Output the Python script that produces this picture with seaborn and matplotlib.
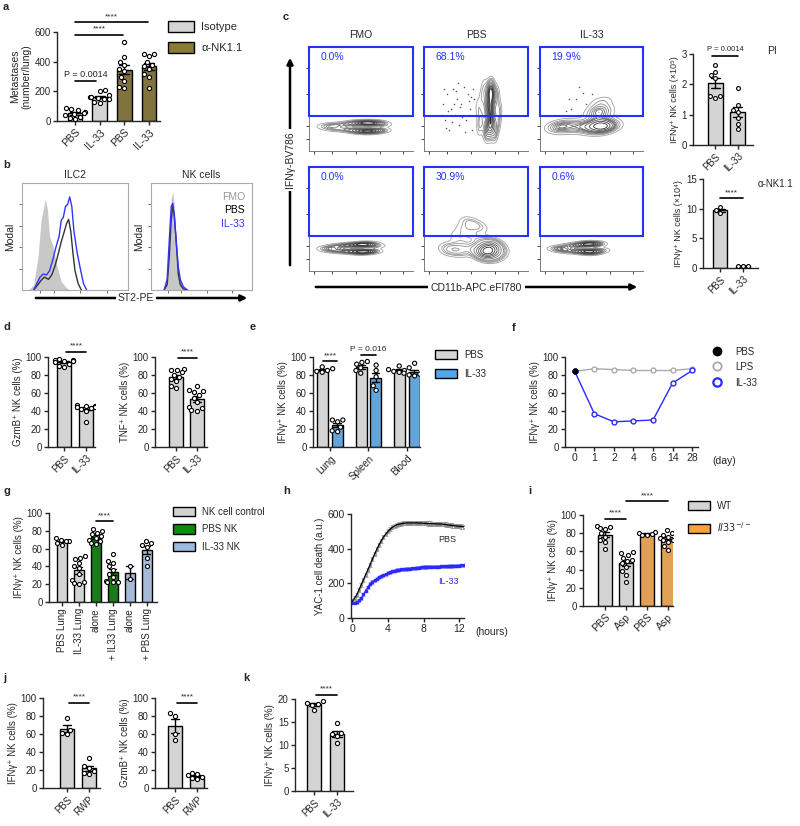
import numpy as np
import pandas as pd
import matplotlib
matplotlib.use('Agg')
import matplotlib.pyplot as plt
import seaborn as sns
from matplotlib.patches import Patch, Rectangle
from matplotlib.lines import Line2D
from matplotlib.colors import LinearSegmentedColormap

# ---------------- data ----------------
# a: metastases
a_labels = ['PBS', 'IL-33', 'PBS', 'IL-33']
a_iso_pbs = [85, 80, 75, 60, 55, 50, 40, 30, 20, 15]
a_iso_il33 = [210, 200, 175, 165, 160, 155, 150, 145, 130, 120]
a_nk_pbs = [530, 430, 400, 380, 350, 340, 300, 270, 230, 225]
a_nk_il33 = [455, 450, 440, 400, 380, 370, 350, 320, 300, 220]

# b: ST2 histograms (x = fraction of axis, y = fraction of mode)
ilc2_fmo_x = [0.06, 0.11, 0.15, 0.18, 0.22, 0.24, 0.26, 0.29, 0.33, 0.37, 0.42, 0.45]
ilc2_fmo_y = [0, 0.05, 0.3, 0.65, 0.85, 0.75, 0.5, 0.42, 0.22, 0.08, 0.02, 0]
ilc2_pbs_x = [0.11, 0.15, 0.18, 0.21, 0.25, 0.28, 0.31, 0.34, 0.37, 0.40, 0.42, 0.44, 0.46, 0.48, 0.50, 0.53, 0.56]
ilc2_pbs_y = [0, 0.05, 0.09, 0.12, 0.10, 0.14, 0.22, 0.33, 0.45, 0.55, 0.62, 0.66, 0.55, 0.35, 0.18, 0.06, 0]
ilc2_il33_x = [0.11, 0.14, 0.17, 0.20, 0.23, 0.26, 0.29, 0.32, 0.35, 0.37, 0.39, 0.41, 0.43, 0.45, 0.47, 0.49, 0.52, 0.55, 0.58, 0.61]
ilc2_il33_y = [0, 0.06, 0.12, 0.15, 0.14, 0.18, 0.28, 0.40, 0.50, 0.65, 0.68, 0.78, 0.80, 0.87, 0.78, 0.55, 0.35, 0.2, 0.06, 0]
nk_hist_x = [0.13, 0.16, 0.18, 0.20, 0.215, 0.23, 0.25, 0.27, 0.29, 0.32, 0.36]
nk_fmo_y = [0, 0.15, 0.5, 0.85, 0.92, 0.8, 0.45, 0.2, 0.08, 0.02, 0]
nk_pbs_y = [0, 0.05, 0.3, 0.65, 0.78, 0.7, 0.45, 0.15, 0.05, 0.01, 0]
nk_il33_y = [0, 0.1, 0.45, 0.78, 0.81, 0.7, 0.45, 0.22, 0.1, 0.03, 0]

# c: flow plots (approximate event positions, fraction of axis) and gates
c_cols = ['FMO', 'PBS', 'IL-33']
c_pct_top = ['0.0%', '68.1%', '19.9%']
c_pct_bot = ['0.0%', '30.9%', '0.6%']
fmo_top_x = [0.17, 0.20, 0.24, 0.28, 0.33, 0.38, 0.43, 0.47, 0.51, 0.55, 0.59, 0.63, 0.67, 0.70]
fmo_top_y = [0.23, 0.25, 0.21, 0.25, 0.21, 0.26, 0.20, 0.27, 0.19, 0.27, 0.19, 0.27, 0.20, 0.25]
fmo_top_w = [1, 1, 1, 1, 1, 1.2, 1.5, 2, 2.5, 3, 3, 3, 2, 1]
pbs_top_x = [0.60, 0.64, 0.68, 0.62, 0.66, 0.64, 0.64, 0.61, 0.67, 0.64, 0.63, 0.65,
             0.55, 0.72, 0.53, 0.52, 0.56, 0.71, 0.58, 0.70]
pbs_top_y = [0.18, 0.20, 0.18, 0.25, 0.28, 0.35, 0.42, 0.45, 0.50, 0.55, 0.58, 0.60,
             0.30, 0.40, 0.22, 0.42, 0.52, 0.28, 0.62, 0.55]
pbs_top_w = [1, 1, 1, 1, 1, 1.2, 1.2, 1, 1, 1, 1, 1, 0.7, 0.7, 0.5, 0.5, 0.5, 0.7, 0.5, 0.6]
pbs_top_dx = [0.18, 0.2, 0.22, 0.24, 0.26, 0.28, 0.3, 0.32, 0.34, 0.36, 0.38, 0.4, 0.42, 0.44, 0.46,
              0.48, 0.5, 0.19, 0.23, 0.27, 0.31, 0.35, 0.39, 0.43, 0.47, 0.21, 0.29, 0.37, 0.45, 0.33]
pbs_top_dy = [0.45, 0.3, 0.55, 0.2, 0.4, 0.6, 0.35, 0.5, 0.25, 0.45, 0.62, 0.3, 0.55, 0.4, 0.2,
              0.5, 0.35, 0.6, 0.38, 0.28, 0.58, 0.42, 0.18, 0.48, 0.6, 0.22, 0.45, 0.33, 0.52, 0.65]
il33_top_x = [0.16, 0.2, 0.25, 0.3, 0.35, 0.4, 0.45, 0.5, 0.55, 0.6, 0.64, 0.68, 0.56, 0.58, 0.60, 0.58, 0.54, 0.62]
il33_top_y = [0.24, 0.21, 0.26, 0.21, 0.26, 0.22, 0.25, 0.21, 0.26, 0.21, 0.26, 0.23, 0.35, 0.42, 0.48, 0.30, 0.38, 0.38]
il33_top_w = [1.5, 1, 1, 0.8, 0.8, 0.8, 1, 1.5, 2, 2.5, 2, 1.5, 1.2, 1.1, 0.9, 1.2, 0.8, 0.8]
il33_top_dx = [0.3, 0.35, 0.4, 0.45, 0.25, 0.5, 0.38, 0.28, 0.42]
il33_top_dy = [0.4, 0.5, 0.35, 0.45, 0.38, 0.55, 0.62, 0.5, 0.56]
fmo_bot_x = [0.18, 0.22, 0.27, 0.32, 0.37, 0.42, 0.47, 0.51, 0.55, 0.59, 0.63]
fmo_bot_y = [0.22, 0.20, 0.24, 0.19, 0.25, 0.19, 0.25, 0.18, 0.26, 0.19, 0.24]
fmo_bot_w = [1, 1, 1, 1, 1, 1.2, 1.5, 2, 2, 1.5, 1]
pbs_bot_x = [0.55, 0.6, 0.65, 0.70, 0.62, 0.58, 0.66, 0.22, 0.28, 0.34, 0.40, 0.32, 0.38, 0.46, 0.54, 0.42, 0.48]
pbs_bot_y = [0.18, 0.21, 0.17, 0.21, 0.24, 0.15, 0.26, 0.20, 0.22, 0.19, 0.23, 0.33, 0.40, 0.45, 0.42, 0.48, 0.33]
pbs_bot_w = [3, 3, 3, 2, 2, 2, 2, 1, 1, 1, 1, 0.8, 0.8, 0.8, 0.8, 0.6, 0.8]
il33_bot_x = [0.17, 0.22, 0.27, 0.32, 0.37, 0.42, 0.46, 0.50, 0.54, 0.58]
il33_bot_y = [0.22, 0.20, 0.24, 0.19, 0.25, 0.19, 0.26, 0.18, 0.26, 0.20]
il33_bot_w = [1, 1, 0.8, 0.8, 1, 1.5, 2, 2, 1.5, 1]

# c right: IFNg+ NK cell counts
pi_pbs = [2.65, 2.4, 2.3, 2.2, 1.62, 1.55, 1.6]
pi_il33 = [1.88, 1.33, 1.16, 1.08, 0.89, 0.7, 0.52]
nk11_pbs = [10.2, 9.8, 9.3]
nk11_il33 = [0.3, 0.35, 0.4]

# d
gzmb_pbs = [98, 97, 97, 96, 96, 95, 94, 92, 90, 89]
gzmb_il33 = [47, 46, 46, 45, 45, 44, 43, 42, 40, 28]
tnf_pbs = [87, 86, 85, 83, 80, 78, 75, 73, 68, 65]
tnf_il33 = [68, 63, 62, 61, 58, 55, 50, 45, 43, 41, 40]

# e
e_tissues = ['Lung', 'Spleen', 'Blood']
e_pbs = [[89, 87, 86, 85, 84, 83], [95, 94, 92, 88, 85, 82], [90, 88, 86, 85, 84, 83]]
e_il33 = [[30, 30, 28, 22, 18, 17], [91, 85, 78, 68, 63], [93, 83, 82, 81, 80, 79]]

# f
f_days = ['0', '1', '2', '4', '6', '14', '28']
f_lps = [84, 87, 86, 85, 85, 85, 87]
f_il33 = [84, 37, 28, 29, 30, 71, 85]
f_pbs = [84]

# g
g_labels = ['PBS Lung', 'IL-33 Lung', 'alone', '+ IL33 Lung', 'alone', '+ PBS Lung']
g_vals = [[72, 70, 69, 68, 66, 64],
          [52, 50, 48, 44, 40, 38, 32, 25, 22, 21, 20],
          [82, 80, 78, 76, 74, 72, 70, 68, 66, 65],
          [54, 46, 44, 40, 36, 32, 28, 24, 22, 22, 22],
          [40, 26],
          [68, 66, 64, 62, 50, 41]]

# h: YAC-1 killing over time
h_time = [i * 0.25 for i in range(51)]
h_pbs = [96, 115, 135, 163, 192, 221, 250, 279, 308, 339, 369, 396, 423, 445, 467, 484, 500,
         512, 523, 531, 538, 541, 544, 546, 548, 549, 548, 549, 548, 549, 547, 548, 546, 546,
         545, 545, 544, 543, 543, 542, 542, 540, 539, 537, 535, 534, 532, 531, 529, 528, 527]
h_il33 = [87, 88, 90, 102, 115, 136, 158, 178, 198, 208, 217, 226, 235, 241, 246, 253, 260,
          265, 269, 273, 277, 279, 280, 282, 283, 284, 285, 287, 288, 289, 291, 292, 294, 294,
          295, 295, 296, 296, 297, 297, 298, 298, 299, 299, 300, 300, 301, 301, 302, 303, 304]
h_pbs_sem = 12
h_il33_sem = 9

# i
i_labels = ['PBS', 'Asp', 'PBS', 'Asp']
i_vals = [[88, 87, 86, 85, 80, 76, 72, 70, 63],
          [59, 58, 56, 53, 51, 49, 47, 43, 38, 34, 26],
          [81, 80, 79, 78, 78],
          [83, 80, 78, 76, 75, 73, 72, 70, 66, 62]]

# j, k
j_ifng = [[78, 65, 61, 60], [33, 25, 22, 19, 17, 16]]
j_gzmb = [[83, 80, 60, 53], [17, 16, 14, 12, 11, 10]]
k_vals = [[19.5, 19.1, 19.0, 18.8, 17.7], [14.8, 12.6, 12.4, 11.9, 10.4]]

# ---------------- style ----------------
sns.set_style('ticks')
plt.rcParams['font.family'] = ['Liberation Sans', 'DejaVu Sans']
plt.rcParams['axes.linewidth'] = 1

GREY = '#d4d4d4'
BLUE = '#2233ff'
W, H = 800, 826
fig = plt.figure(figsize=(W / 100, H / 100), dpi=100)

ov = fig.add_axes([0, 0, 1, 1], zorder=10)
ov.set_xlim(0, W)
ov.set_ylim(H, 0)
ov.axis('off')


def px_ax(l, t, r, b):
    return fig.add_axes([l / W, 1 - b / H, (r - l) / W, (b - t) / H])


def style(ax):
    sns.despine(ax=ax)
    ax.tick_params(width=1, length=3, labelsize=7, pad=1.5)


def bars(ax, groups, colors, width=0.6, pt=3.0):
    keys = [f'g{i}' for i in range(len(groups))]
    df = pd.DataFrame([(k, v) for k, vals in zip(keys, groups) for v in vals], columns=['grp', 'val'])
    sns.barplot(data=df, x='grp', y='val', hue='grp', order=keys, hue_order=keys,
                palette=dict(zip(keys, colors)), width=width, errorbar='se', capsize=0.4,
                err_kws={'color': 'black', 'linewidth': 1}, edgecolor='black', linewidth=1,
                legend=False, ax=ax)
    sns.swarmplot(data=df, x='grp', y='val', order=keys, size=pt, color='white',
                  edgecolor='black', linewidth=0.8, ax=ax, warn_thresh=1)
    ax.set_xlabel('')
    ax.set_ylabel('')
    style(ax)


def sig(ax, x1, x2, y, s, fs=6):
    ax.plot([x1, x2], [y, y], color='black', lw=1.2, clip_on=False)
    ax.annotate(s, ((x1 + x2) / 2, y), xytext=(0, 1.5), textcoords='offset points',
                ha='center', va='bottom', fontsize=fs, annotation_clip=False)


def rot_labels(ax, labels, rot=45, fs=7):
    ax.set_xticks(range(len(labels)))
    if rot == 90:
        ax.set_xticklabels(labels, rotation=90, ha='center', va='top', fontsize=fs)
    else:
        ax.set_xticklabels(labels, rotation=rot, ha='right', rotation_mode='anchor', fontsize=fs)


def leg(handles, labels, x, y, fs=7, spacing=0.8):
    fig.legend(handles, labels, loc='upper left', bbox_to_anchor=(x / W, 1 - y / H), frameon=False,
               fontsize=fs, handlelength=2.3, handleheight=1.1, labelspacing=spacing,
               handletextpad=0.7, borderaxespad=0, borderpad=0)


def patch(c):
    return Patch(facecolor=c, edgecolor='black', linewidth=1)


# panel letters
for s, x, y in [('a', 3, 2), ('b', 3, 160), ('c', 283, 12), ('d', 3, 322), ('e', 250, 322),
                ('f', 512, 323), ('g', 3, 486), ('h', 283, 486), ('i', 528, 486),
                ('j', 3, 673), ('k', 243, 673)]:
    ov.text(x, y, s, fontsize=8, fontweight='bold', va='top')

# ---------------- a ----------------
ax = px_ax(57, 32, 160, 121)
bars(ax, [a_iso_pbs, a_iso_il33, a_nk_pbs, a_nk_il33], [GREY, GREY, '#8b7a33', '#8b7a33'])
ax.set_xlim(-0.73, 3.45)
ax.set_ylim(0, 600)
ax.set_yticks([0, 200, 400, 600])
ax.set_ylabel('Metastases\n(number/lung)', fontsize=7.5, labelpad=2)
rot_labels(ax, a_labels, fs=7.5)
sig(ax, 0, 0.85, 270, 'P = 0.0014', fs=6.5)
sig(ax, 0, 1.95, 580, '****')
sig(ax, 0, 2.95, 665, '****')
leg([patch(GREY), patch('#8b7a33')], ['Isotype', 'α-NK1.1'], 168, 21, fs=8, spacing=0.9)

# ---------------- b ----------------
for (l, r, title, fx, fy, px_, py_, ix, iy) in [
        (22, 128, 'ILC2', ilc2_fmo_x, ilc2_fmo_y, ilc2_pbs_x, ilc2_pbs_y, ilc2_il33_x, ilc2_il33_y),
        (151, 252, 'NK cells', nk_hist_x, nk_fmo_y, nk_hist_x, nk_pbs_y, nk_hist_x, nk_il33_y)]:
    ax = px_ax(l, 183, r, 290)
    ax.fill_between(fx, fy, color='#c8c8c8', lw=0)
    ax.plot(px_, py_, color='#333333', lw=1)
    ax.plot(ix, iy, color='#3333ff', lw=1)
    ax.set_xlim(0, 1)
    ax.set_ylim(0, 1)
    for sp in ax.spines.values():
        sp.set_color('#aaaaaa')
        sp.set_linewidth(0.8)
    ax.set_xticks([0.17, 0.3, 0.55, 0.8])
    ax.set_yticks([0.2, 0.4, 0.6, 0.8])
    ax.tick_params(length=2, width=0.6, color='#555555', labelleft=False, labelbottom=False)
    ax.set_ylabel('Modal', fontsize=7.5, labelpad=3)
    ov.text((l + r) / 2, 175, title, ha='center', va='center', fontsize=7.5)
ov.text(245, 197, 'FMO', color='#999999', ha='right', va='center', fontsize=7.5)
ov.text(245, 210, 'PBS', color='black', ha='right', va='center', fontsize=7.5)
ov.text(245, 224, 'IL-33', color='#3333ff', ha='right', va='center', fontsize=7.5)
ov.annotate('', xy=(250, 298), xytext=(33, 298),
            arrowprops=dict(arrowstyle='-|>', lw=1.8, color='black', mutation_scale=9))
ov.text(136, 298, 'ST2-PE', ha='center', va='center', fontsize=7.5,
        bbox=dict(facecolor='white', edgecolor='none', pad=1.5))

# ---------------- c flow ----------------
cmap = LinearSegmentedColormap.from_list('flow', ['#a0a0a0', '#151515'])
flow = [
    [(fmo_top_x, fmo_top_y, fmo_top_w, [], []),
     (pbs_top_x, pbs_top_y, pbs_top_w, pbs_top_dx, pbs_top_dy),
     (il33_top_x, il33_top_y, il33_top_w, il33_top_dx, il33_top_dy)],
    [(fmo_bot_x, fmo_bot_y, fmo_bot_w, [], []),
     (pbs_bot_x, pbs_bot_y, pbs_bot_w, [], []),
     (il33_bot_x, il33_bot_y, il33_bot_w, [], [])]]
col_px = [(309, 413), (424, 528), (540, 643)]
row_px = [(47, 151), (167, 271)]
for ri, (t, b) in enumerate(row_px):
    for ci, (l, r) in enumerate(col_px):
        ax = px_ax(l, t, r, b)
        fx, fy, fw, dx, dy = flow[ri][ci]
        if dx:
            ax.scatter(dx, dy, s=1.2, color='#555555', lw=0)
        sns.kdeplot(x=fx, y=fy, weights=fw, levels=11, thresh=0.07, bw_adjust=0.75,
                    cmap=cmap, linewidths=0.6, ax=ax)
        ax.set_xlim(0, 1)
        ax.set_ylim(0, 1)
        ax.add_patch(Rectangle((0, 0.34), 1, 0.66, transform=ax.transAxes, fill=False,
                               edgecolor=BLUE, lw=1.5, clip_on=False, zorder=5))
        sns.despine(ax=ax)
        for sp in ['left', 'bottom']:
            ax.spines[sp].set_linewidth(0.6)
            ax.spines[sp].set_color('#666666')
        ax.set_xticks([0.05, 0.22, 0.45, 0.68, 0.9])
        ax.set_yticks([0.12, 0.24, 0.55, 0.8])
        ax.tick_params(length=2, width=0.6, labelleft=False, labelbottom=False)
        ax.set_xlabel('')
        ax.set_ylabel('')
        pct = (c_pct_top if ri == 0 else c_pct_bot)[ci]
        ax.text(0.11, 0.9, pct, transform=ax.transAxes, color=BLUE, fontsize=7.5, va='center')
        if ri == 0:
            ov.text((l + r) / 2, 35, c_cols[ci], ha='center', va='center', fontsize=7.5)
ov.annotate('', xy=(290, 55), xytext=(290, 268),
            arrowprops=dict(arrowstyle='-|>', lw=1.8, color='black', mutation_scale=9))
ov.text(290, 160, 'IFNγ-BV786', rotation=90, ha='center', va='center', fontsize=7.5,
        bbox=dict(facecolor='white', edgecolor='none', pad=2))
ov.annotate('', xy=(640, 287), xytext=(313, 287),
            arrowprops=dict(arrowstyle='-|>', lw=1.8, color='black', mutation_scale=9))
ov.text(476, 288, 'CD11b-APC.eFl780', ha='center', va='center', fontsize=7.5,
        bbox=dict(facecolor='white', edgecolor='none', pad=2))

# c right bars
ax = px_ax(693, 54, 753, 145)
bars(ax, [pi_pbs, pi_il33], [GREY, GREY], width=0.68, pt=2.8)
ax.set_xlim(-1.0, 1.68)
ax.set_ylim(0, 3)
ax.set_yticks([0, 1, 2, 3])
ax.set_ylabel('IFNγ⁺ NK cells (×10⁵)', fontsize=6.5, labelpad=2)
rot_labels(ax, ['PBS', 'IL-33'])
sig(ax, -0.15, 1.0, 2.95, 'P = 0.0014', fs=5.5)
ov.text(767, 51, 'PI', fontsize=7.5, va='center')

ax = px_ax(703, 179, 758, 268)
bars(ax, [nk11_pbs, nk11_il33], [GREY, GREY], width=0.6, pt=2.8)
ax.set_xlim(-0.74, 1.65)
ax.set_ylim(0, 15)
ax.set_yticks([0, 5, 10, 15])
ax.set_ylabel('IFNγ⁺ NK cells (×10⁴)', fontsize=6.5, labelpad=2)
rot_labels(ax, ['PBS', 'IL-33'])
sig(ax, 0, 1, 11.8, '****')
ov.text(758, 184, 'α-NK1.1', fontsize=7, va='center')

# ---------------- d ----------------
for (l, r, xl, d_pbs, d_il33, lab, ys) in [
        (48, 95, (-0.73, 1.4), gzmb_pbs, gzmb_il33, 'GzmB⁺ NK cells (%)', 106),
        (155, 207, (-1.0, 1.48), tnf_pbs, tnf_il33, 'TNF⁺ NK cells (%)', 99)]:
    ax = px_ax(l, 357, r, 447)
    bars(ax, [d_pbs, d_il33], [GREY, GREY], width=0.64)
    ax.set_xlim(*xl)
    ax.set_ylim(0, 100)
    ax.set_yticks(range(0, 101, 20))
    ax.set_ylabel(lab, fontsize=7, labelpad=2)
    rot_labels(ax, ['PBS', 'IL-33'])
    sig(ax, 0.1, 1, ys, '****')

# ---------------- e ----------------
ax = px_ax(313, 357, 420, 447)
rows = []
for t, pv, iv in zip(e_tissues, e_pbs, e_il33):
    rows += [(t, 'PBS', v) for v in pv] + [(t, 'IL-33', v) for v in iv]
edf = pd.DataFrame(rows, columns=['tissue', 'treat', 'val'])
epal = {'PBS': GREY, 'IL-33': '#4fa6ef'}
sns.barplot(data=edf, x='tissue', y='val', hue='treat', order=e_tissues, hue_order=['PBS', 'IL-33'],
            palette=epal, width=0.75, gap=0.25, errorbar='se', capsize=0.4,
            err_kws={'color': 'black', 'linewidth': 1}, edgecolor='black', linewidth=1,
            legend=False, ax=ax)
sns.swarmplot(data=edf, x='tissue', y='val', hue='treat', order=e_tissues, hue_order=['PBS', 'IL-33'],
              palette={'PBS': 'white', 'IL-33': 'white'}, dodge=True, size=3.0, edgecolor='black',
              linewidth=0.8, legend=False, ax=ax, warn_thresh=1)
style(ax)
ax.set_xlim(-0.44, 2.34)
ax.set_ylim(0, 100)
ax.set_yticks(range(0, 101, 20))
ax.set_xlabel('')
ax.set_ylabel('IFNγ⁺ NK cells (%)', fontsize=7, labelpad=2)
rot_labels(ax, e_tissues)
sig(ax, -0.19, 0.19, 95.5, '****')
sig(ax, 0.81, 1.19, 102, 'P = 0.016', fs=6)
leg([patch(GREY), patch('#4fa6ef')], ['PBS', 'IL-33'], 435, 350, fs=7, spacing=0.9)

# ---------------- f ----------------
ax = px_ax(565, 357, 698, 447)
pos = list(range(len(f_days)))
ax.plot(pos, f_lps, color='#aaaaaa', lw=1, marker='o', ms=3.5, mfc='white', mec='#aaaaaa', mew=1)
ax.plot(pos, f_il33, color='#2a2aff', lw=1, marker='o', ms=3.5, mfc='white', mec='#2a2aff', mew=1)
ax.plot(pos[:1], f_pbs, 'o', color='black', ms=3.5)
style(ax)
ax.set_xlim(-0.5, 6.3)
ax.set_ylim(0, 100)
ax.set_yticks(range(0, 101, 20))
ax.set_xticks(pos)
ax.set_xticklabels(f_days, fontsize=7.5)
ax.set_ylabel('IFNγ⁺ NK cells (%)', fontsize=7, labelpad=2)
ov.text(712, 461, '(day)', fontsize=7.5, va='center')
leg([Line2D([], [], ls='', marker='o', ms=6, color='black'),
     Line2D([], [], ls='', marker='o', ms=6, mfc='white', mec='#aaaaaa', mew=1.3),
     Line2D([], [], ls='', marker='o', ms=6, mfc='white', mec='#2a2aff', mew=1.6)],
    ['PBS', 'LPS', 'IL-33'], 706, 347, fs=7, spacing=0.55)

# ---------------- g ----------------
ax = px_ax(49, 513, 157, 602)
g_cols = [GREY, GREY, '#0b8a0b', '#0b8a0b', '#9db9df', '#9db9df']
bars(ax, g_vals, g_cols, width=0.6, pt=2.9)
ax.set_xlim(-0.76, 5.6)
ax.set_ylim(0, 100)
ax.set_yticks(range(0, 101, 20))
ax.set_ylabel('IFNγ⁺ NK cells (%)', fontsize=7, labelpad=2)
rot_labels(ax, g_labels, rot=90, fs=7)
sig(ax, 2, 3, 91, '****')
leg([patch(GREY), patch('#0b8a0b'), patch('#9db9df')], ['NK cell control', 'PBS NK', 'IL-33 NK'],
    173, 507, fs=7, spacing=0.75)

# ---------------- h ----------------
ax = px_ax(351, 514, 464, 618)
ax.errorbar(h_time, h_pbs, yerr=h_pbs_sem, fmt='-', color='black', lw=0.9, ecolor='#8a8a8a',
            elinewidth=0.5, capsize=1.2, capthick=0.5)
ax.plot(h_time, h_pbs, 's', ms=1.8, mfc='none', mec='#777777', mew=0.5)
ax.errorbar(h_time, h_il33, yerr=h_il33_sem, fmt='-', color='#2a2aff', lw=0.9, ecolor='#8c8cff',
            elinewidth=0.5, capsize=1.2, capthick=0.5)
ax.plot(h_time, h_il33, 's', ms=1.8, color='#2a2aff')
style(ax)
ax.set_xlim(-0.15, 12.55)
ax.set_ylim(0, 600)
ax.set_xticks([0, 4, 8, 12])
ax.set_yticks([0, 200, 400, 600])
ax.tick_params(labelsize=7.5)
ax.set_ylabel('YAC-1 cell death (a.u.)', fontsize=7, labelpad=2)
ax.text(9.6, 450, 'PBS', fontsize=6.5, va='center')
ax.text(9.6, 210, 'IL-33', fontsize=6.5, va='center', color='#2a2aff')
ov.text(475, 632, '(hours)', fontsize=7.5, va='center')

# ---------------- i ----------------
ax = px_ax(583, 515, 673, 606)
bars(ax, i_vals, [GREY, GREY, '#f7a23e', '#f7a23e'], width=0.63, pt=2.9)
ax.set_xlim(-1.05, 3.24)
ax.set_ylim(0, 100)
ax.set_yticks(range(0, 101, 20))
ax.set_ylabel('IFNγ⁺ NK cells (%)', fontsize=7, labelpad=2)
rot_labels(ax, i_labels, fs=7.5)
sig(ax, 0, 1, 96, '****')
sig(ax, 1, 3, 115, '****')
leg([patch(GREY), patch('#f7a23e')], ['WT', r'$\it{Il33}^{-/-}$'], 688, 501, fs=7, spacing=0.9)

# ---------------- j ----------------
for (l, r, xl, vals, lab) in [(43, 100, (-1.09, 1.5), j_ifng, 'IFNγ⁺ NK cells (%)'),
                              (155, 207, (-0.91, 1.45), j_gzmb, 'GzmB⁺ NK cells (%)')]:
    ax = px_ax(l, 698, r, 788)
    bars(ax, vals, [GREY, GREY], width=0.64)
    ax.set_xlim(*xl)
    ax.set_ylim(0, 100)
    ax.set_yticks(range(0, 101, 20))
    ax.set_ylabel(lab, fontsize=7, labelpad=2)
    rot_labels(ax, ['PBS', 'RWP'])
    sig(ax, 0.1, 1, 95, '****')

# ---------------- k ----------------
ax = px_ax(295, 699, 353, 791)
bars(ax, k_vals, [GREY, GREY], width=0.64)
ax.set_xlim(-0.83, 1.7)
ax.set_ylim(0, 20)
ax.set_yticks([0, 5, 10, 15, 20])
ax.set_ylabel('IFNγ⁺ NK cells (%)', fontsize=7, labelpad=2)
rot_labels(ax, ['PBS', 'IL-33'])
sig(ax, 0.1, 1, 20.9, '****')

fig.savefig('out.png', dpi=100)
